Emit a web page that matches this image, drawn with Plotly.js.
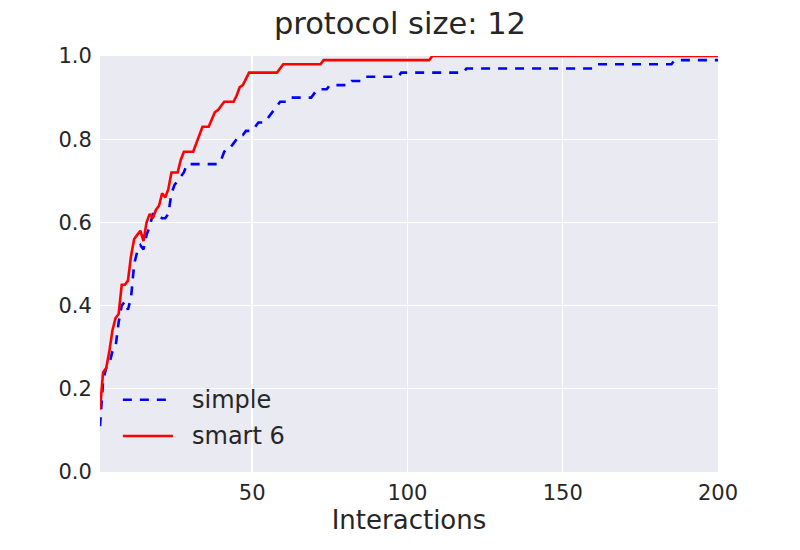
<!DOCTYPE html>
<html>
<head>
<meta charset="utf-8">
<script src="https://cdn.plot.ly/plotly-3.0.1.min.js"></script>
<style>
  html, body { margin: 0; padding: 0; background: #ffffff; }
  #chart { width: 800px; height: 550px; }
</style>
</head>
<body>
<div id="chart"></div>
<script>
// ---- data ----
const chartTitle = "protocol size: 12";
const xAxisTitle = "Interactions";
const seriesNames = ["simple", "smart 6"];

const simpleX = [1,2,3,4,5,6,7,8,9,10,11,12,13,14,15,16,17,18,19,20,21,22,23,24,25,26,27,28,29,
  39,40,41,42,43,44,45,46,47,48,50,51,52,54,55,56,57,58,59,61,62,69,70,71,74,75,81,82,85,86,97,98,118,119,160,161,185,186,200];
const simpleY = [0.11,0.22,0.25,0.26,0.29,0.30,0.36,0.40,0.41,0.39,0.42,0.50,0.53,0.545,0.535,0.57,0.59,0.62,0.62,0.615,
  0.61,0.61,0.62,0.67,0.69,0.70,0.71,0.72,0.74,
  0.74,0.75,0.77,0.78,0.78,0.79,0.80,0.81,0.81,0.82,0.82,0.83,0.84,0.84,0.85,0.86,0.87,0.88,0.89,0.89,0.90,0.90,0.91,0.92,
  0.92,0.93,0.93,0.94,0.94,0.95,0.95,0.96,0.96,0.97,0.97,0.98,0.98,0.99,0.99];

const smartX = [1,2,3,4,5,6,7,8,9,10,11,12,13,14,15,16,17,18,19,20,21,22,23,24,25,26,27,28,
  31,32,33,34,36,37,38,39,40,41,44,45,46,47,48,49,58,59,60,72,73,107,108,200];
const smartY = [0.15,0.24,0.25,0.29,0.34,0.37,0.38,0.45,0.45,0.46,0.52,0.56,0.57,0.58,0.555,0.60,0.62,0.61,0.63,0.64,
  0.67,0.66,0.68,0.72,0.72,0.72,0.75,0.77,
  0.77,0.79,0.815,0.83,0.83,0.85,0.865,0.87,0.88,0.89,0.89,0.905,0.925,0.93,0.945,0.96,0.96,0.97,0.98,0.98,0.99,0.99,1.0,1.0];

const xTickVals = [50, 100, 150, 200];
const yTickVals = [0.0, 0.2, 0.4, 0.6, 0.8, 1.0];

// ---- styles ----
const FONT = "DejaVu Sans, Liberation Sans, sans-serif";
const TEXT = "#262626";
const colors = ["#0000ff", "#ff0000"];
const dashes = ["9px,8px", "solid"];

const traces = [
  { x: simpleX, y: simpleY, name: seriesNames[0], type: "scatter", mode: "lines",
    line: { color: colors[0], width: 2.6, dash: dashes[0] }, showlegend: false, hoverinfo: "skip" },
  { x: smartX, y: smartY, name: seriesNames[1], type: "scatter", mode: "lines",
    line: { color: colors[1], width: 2.6, dash: dashes[1] }, showlegend: false, hoverinfo: "skip" }
];

// manual legend (long line samples as in the reference)
const legendRows = [0.1735, 0.0864];
const shapes = [];
const annotations = [];
seriesNames.forEach((nm, i) => {
  shapes.push({ type: "line", xref: "paper", yref: "paper",
    x0: 0.037, x1: 0.118, y0: legendRows[i], y1: legendRows[i],
    line: { color: colors[i], width: 2.6, dash: dashes[i] } });
  annotations.push({ xref: "paper", yref: "paper", x: 0.146, y: legendRows[i],
    xanchor: "left", yanchor: "middle", showarrow: false, text: nm,
    font: { family: FONT, size: 24, color: TEXT } });
});

const layout = {
  width: 800, height: 550,
  paper_bgcolor: "#ffffff",
  plot_bgcolor: "#EAEAF2",
  margin: { l: 100, r: 82, t: 56, b: 78 },
  title: { text: chartTitle, font: { family: FONT, size: 30.5, color: TEXT },
           x: 0.5, xanchor: "center", xref: "container", y: 0.958, yref: "container", yanchor: "middle" },
  xaxis: {
    range: [1, 200], tickvals: xTickVals, ticktext: xTickVals.map(String),
    showgrid: true, gridcolor: "#ffffff", gridwidth: 1.4, zeroline: false, showline: false,
    ticks: "outside", ticklen: 2, tickcolor: "rgba(0,0,0,0)",
    tickfont: { family: FONT, size: 21, color: TEXT },
    title: { text: xAxisTitle, font: { family: FONT, size: 26, color: TEXT }, standoff: 6 }
  },
  yaxis: {
    range: [0, 1], tickvals: yTickVals, ticktext: yTickVals.map(v => v.toFixed(1)),
    showgrid: true, gridcolor: "#ffffff", gridwidth: 1.4, zeroline: false, showline: false,
    ticks: "outside", ticklen: 3, tickcolor: "rgba(0,0,0,0)",
    tickfont: { family: FONT, size: 21, color: TEXT }
  },
  shapes: shapes,
  annotations: annotations
};

Plotly.newPlot("chart", traces, layout, { staticPlot: true, displayModeBar: false });
</script>
</body>
</html>
